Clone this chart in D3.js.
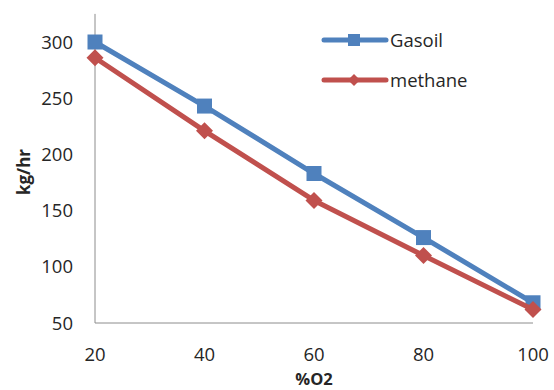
<!DOCTYPE html>
<html><head><meta charset="utf-8">
<script src="https://cdn.jsdelivr.net/npm/d3@7"></script>
<style>body{margin:0;background:#fff}text{font-family:"Open Sans","Liberation Sans",sans-serif;fill:#262626}</style>
</head><body><svg id="c" width="554" height="390"></svg>
<script>
const xValues = [20, 40, 60, 80, 100];
const gasoil = [300, 243, 183, 126, 68];
const methane = [286, 221, 159, 110, 62];
const yTicks = [50, 100, 150, 200, 250, 300];
const seriesNames = ["Gasoil", "methane"];
const colors = ["#4F81BD", "#C0504D"];

const svg = d3.select("#c");
const x = d3.scaleLinear().domain([20, 100]).range([95, 533]);
const y = d3.scaleLinear().domain([50, 300]).range([323, 42]);

svg.append("line").attr("x1", 95).attr("x2", 95).attr("y1", y(325)).attr("y2", y(50)).attr("stroke", "#8c8c8c").attr("stroke-width", 1);
svg.append("line").attr("x1", 95).attr("x2", x(100)).attr("y1", y(50)).attr("y2", y(50)).attr("stroke", "#8c8c8c").attr("stroke-width", 1);

svg.selectAll(".yt").data(yTicks).enter().append("text")
  .attr("x", 73).attr("y", d => y(d)).attr("dy", "0.36em").attr("text-anchor", "end")
  .attr("font-size", 18.5).text(d => d);
svg.selectAll(".xt").data(xValues).enter().append("text")
  .attr("x", d => x(d)).attr("y", 361).attr("text-anchor", "middle")
  .attr("font-size", 18.5).text(d => d);

svg.append("text").attr("x", 314).attr("y", 385).attr("text-anchor", "middle")
  .attr("font-size", 16.5).attr("font-weight", "bold").text("%O2");
svg.append("text").attr("transform", "translate(30,172) rotate(-90)").attr("text-anchor", "middle")
  .attr("font-size", 17).attr("font-weight", "bold").text("kg/hr");

const data = [gasoil, methane];
const line = d3.line().x((d, i) => x(xValues[i])).y(d => y(d));
const square = s => `M${-s/2},${-s/2}h${s}v${s}h${-s}Z`;
const diamond = s => `M0,${-s/2}L${s/2},0L0,${s/2}L${-s/2},0Z`;

data.forEach((vals, k) => {
  svg.append("path").attr("d", line(vals)).attr("fill", "none")
    .attr("stroke", colors[k]).attr("stroke-width", 5).attr("stroke-linejoin", "round");
  svg.selectAll(".m" + k).data(vals).enter().append("path")
    .attr("d", k === 0 ? square(15) : diamond(17))
    .attr("transform", (d, i) => `translate(${x(xValues[i])},${y(d)})`)
    .attr("fill", colors[k]);
});

const ly = [40, 80];
seriesNames.forEach((n, k) => {
  svg.append("line").attr("x1", 324).attr("x2", 386).attr("y1", ly[k]).attr("y2", ly[k])
    .attr("stroke", colors[k]).attr("stroke-width", 5).attr("stroke-linecap", "round");
  svg.append("path").attr("d", k === 0 ? square(12) : diamond(12))
    .attr("transform", `translate(354,${ly[k]})`).attr("fill", colors[k]);
  svg.append("text").attr("x", 390).attr("y", ly[k]).attr("dy", "0.36em").attr("font-size", 18.5).text(n);
});
</script></body></html>
